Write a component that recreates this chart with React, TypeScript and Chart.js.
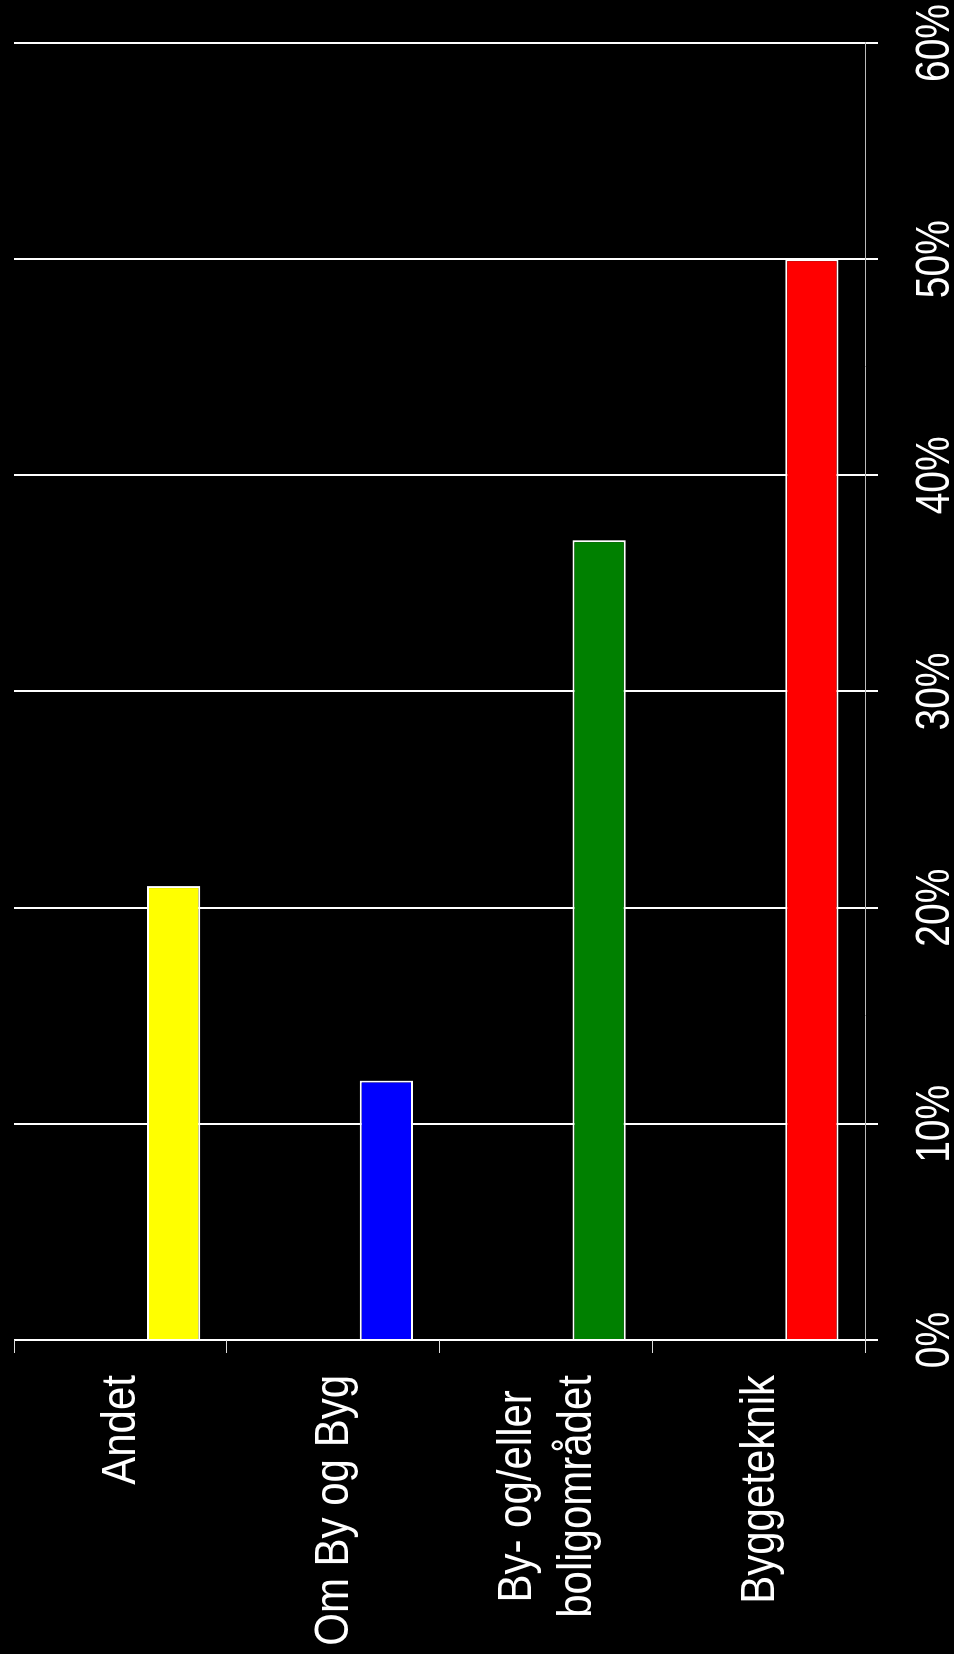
import React, { useEffect, useRef } from "react";
import { Chart, registerables } from "chart.js";

Chart.register(...registerables);

const categories: (string | string[])[] = [
  "Andet",
  "Om By og Byg",
  ["By- og/eller", "boligområdet"],
  "Byggeteknik",
];
const emptySeries: (number | null)[] = [null, null, null, null];
const shareValues: number[] = [21, 12, 37, 50];
const barColors: string[] = ["#ffff00", "#0000ff", "#008000", "#ff0000"];
const valueTicks = { min: 0, max: 60, step: 10, suffix: "%" };

const FONT = '"Liberation Sans", Arial, sans-serif';
const LABEL_SIZE = 42;
const LABEL_STRETCH = 1.13;
const LABEL_LINE = 60;
const TICK_SIZE = 39;
const TICK_STRETCH = 1.22;

const textPlugin = {
  id: "rotatedTexts",
  afterDraw(chart: any) {
    const { ctx, chartArea } = chart;
    const yScale = chart.scales.y;
    const xScale = chart.scales.x;
    ctx.save();
    ctx.fillStyle = "#ffffff";
    ctx.textBaseline = "alphabetic";

    // category labels (left of the category axis)
    ctx.font = `${LABEL_SIZE}px ${FONT}`;
    ctx.textAlign = "center";
    const right = chartArea.left - 35;
    const capH = LABEL_SIZE * 0.716 * LABEL_STRETCH;
    categories.forEach((lab, i) => {
      const lines = Array.isArray(lab) ? lab : [lab];
      const blockW = Math.max(...lines.map((l) => ctx.measureText(l).width));
      const cx = right - blockW / 2;
      const cy = yScale.getPixelForTick(i) - 2;
      const blockH = capH + (lines.length - 1) * LABEL_LINE;
      const firstBase = cy - blockH / 2 + capH;
      lines.forEach((l, j) => {
        ctx.save();
        ctx.translate(cx, firstBase + j * LABEL_LINE);
        ctx.scale(1, LABEL_STRETCH);
        ctx.fillText(l, 0, 0);
        ctx.restore();
      });
    });

    // value tick labels (below the value axis)
    ctx.font = `${TICK_SIZE}px ${FONT}`;
    ctx.textAlign = "center";
    const base = chartArea.bottom + 84;
    xScale.ticks.forEach((t: any, i: number) => {
      const px = xScale.getPixelForTick(i);
      ctx.save();
      ctx.translate(px, base);
      ctx.scale(1, TICK_STRETCH);
      ctx.fillText(String(t.label), 0, 0);
      ctx.restore();
    });
    ctx.restore();
  },
};

export default function App() {
  const ref = useRef<HTMLCanvasElement | null>(null);
  useEffect(() => {
    if (!ref.current) return;
    document.body.style.background = "#000";
    const chart = new Chart(ref.current, {
      type: "bar",
      data: {
        labels: categories as any,
        datasets: [
          {
            label: "",
            data: emptySeries,
            backgroundColor: "#000",
            barPercentage: 0.5,
            categoryPercentage: 1,
          },
          {
            label: "Andel",
            data: shareValues,
            backgroundColor: barColors,
            borderColor: "#ffffff",
            borderWidth: 2,
            barPercentage: 0.5,
            categoryPercentage: 1,
          },
        ],
      },
      options: {
        indexAxis: "y",
        responsive: false,
        animation: false,
        layout: { padding: { top: 14, right: 43, left: 0, bottom: 0 } },
        plugins: {
          legend: { display: false },
          tooltip: { enabled: false },
        },
        scales: {
          x: {
            position: "bottom",
            min: valueTicks.min,
            max: valueTicks.max,
            ticks: {
              display: false,
              stepSize: valueTicks.step,
              callback: (v: any) => `${v}${valueTicks.suffix}`,
              autoSkip: false,
            },
            grid: { color: "#ffffff", lineWidth: 2, tickLength: 13 },
            border: { display: true, color: "#bbbbbb", width: 1 },
            afterFit: (s: any) => {
              s.height = 89;
              s.paddingLeft = 0;
              s.paddingRight = 0;
            },
          },
          y: {
            ticks: { display: false },
            grid: {
              drawOnChartArea: false,
              color: "#dddddd",
              lineWidth: 1,
              tickLength: 13,
              offset: true,
            },
            border: { display: false },
            afterFit: (s: any) => {
              s.width = 314;
              s.paddingTop = 0;
              s.paddingBottom = 0;
            },
          },
        },
      } as any,
      plugins: [textPlugin],
    });
    return () => chart.destroy();
  }, []);

  return (
    <div
      style={{
        position: "absolute",
        left: 0,
        top: 0,
        width: 954,
        height: 1654,
        background: "#000",
        overflow: "hidden",
      }}
    >
      <canvas
        ref={ref}
        width={1654}
        height={954}
        style={{
          position: "absolute",
          left: 0,
          top: 0,
          width: 1654,
          height: 954,
          transformOrigin: "0 0",
          transform: "translate(0px, 1654px) rotate(-90deg)",
        }}
      />
    </div>
  );
}
